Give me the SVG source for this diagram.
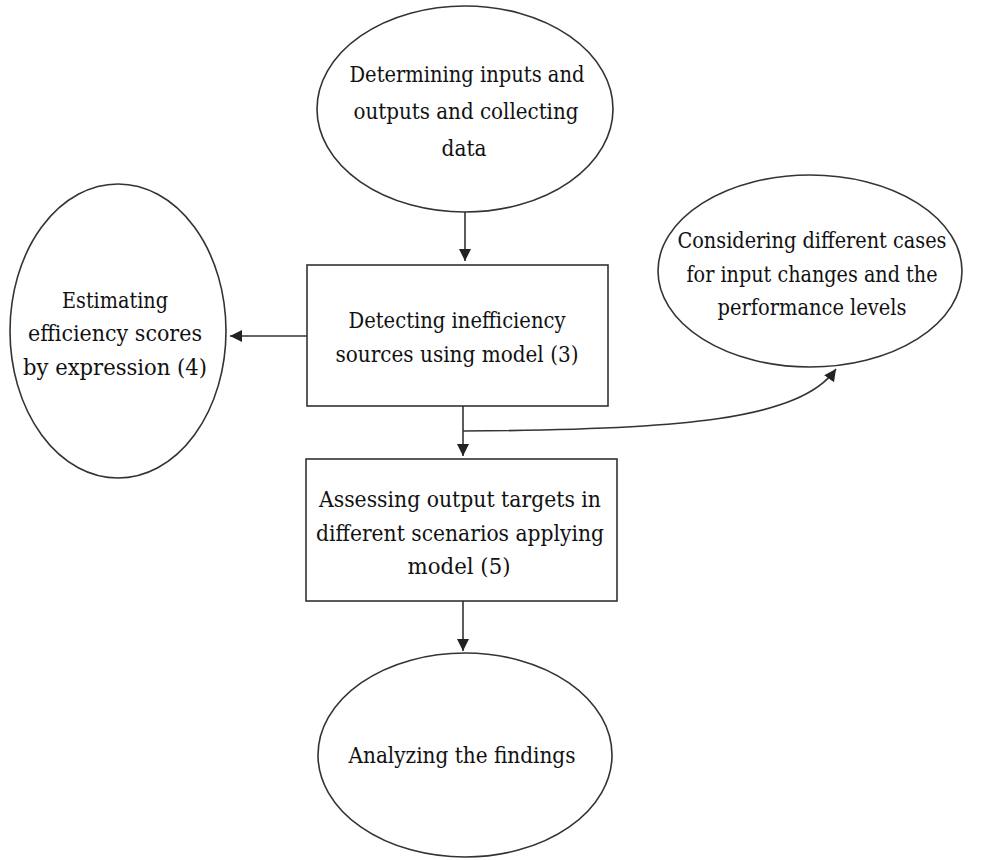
<svg xmlns="http://www.w3.org/2000/svg" width="996" height="860" viewBox="0 0 996 860">
<style>
.shape{fill:#fff;stroke:#333;stroke-width:1.6}
.lbl{font-family:'DejaVu Serif',serif;font-size:22px;fill:#111;text-anchor:middle}
.conn{fill:none;stroke:#333;stroke-width:1.6}
</style>
<defs>
<marker id="arr" markerUnits="userSpaceOnUse" markerWidth="14" markerHeight="14" refX="12" refY="6" orient="auto">
<path d="M0,0 L12,6 L0,12 Z" fill="#222"/>
</marker>
</defs>
<rect width="996" height="860" fill="#fff"/>
<g id="n1">
<ellipse class="shape" cx="465" cy="109" rx="148" ry="103"/>
<text class="lbl" x="467" y="82" textLength="235" lengthAdjust="spacingAndGlyphs">Determining inputs and</text>
<text class="lbl" x="466" y="119" textLength="225" lengthAdjust="spacingAndGlyphs">outputs and collecting</text>
<text class="lbl" x="464" y="156" textLength="45" lengthAdjust="spacingAndGlyphs">data</text>
</g>
<g id="n2">
<rect class="shape" x="307" y="265" width="301" height="141"/>
<text class="lbl" x="457" y="328" textLength="217" lengthAdjust="spacingAndGlyphs">Detecting inefficiency</text>
<text class="lbl" x="457" y="362" textLength="243" lengthAdjust="spacingAndGlyphs">sources using model (3)</text>
</g>
<g id="n3">
<ellipse class="shape" cx="118" cy="331" rx="108" ry="147"/>
<text class="lbl" x="115" y="308" textLength="106" lengthAdjust="spacingAndGlyphs">Estimating</text>
<text class="lbl" x="115" y="341" textLength="174" lengthAdjust="spacingAndGlyphs">efficiency scores</text>
<text class="lbl" x="115" y="375" textLength="184" lengthAdjust="spacingAndGlyphs">by expression (4)</text>
</g>
<g id="n4">
<ellipse class="shape" cx="810" cy="271" rx="152" ry="96"/>
<text class="lbl" x="812" y="248" textLength="269" lengthAdjust="spacingAndGlyphs">Considering different cases</text>
<text class="lbl" x="812" y="282" textLength="251" lengthAdjust="spacingAndGlyphs">for input changes and the</text>
<text class="lbl" x="812" y="315" textLength="189" lengthAdjust="spacingAndGlyphs">performance levels</text>
</g>
<g id="n5">
<rect class="shape" x="306" y="459" width="311" height="142"/>
<text class="lbl" x="460" y="507" textLength="282" lengthAdjust="spacingAndGlyphs">Assessing output targets in</text>
<text class="lbl" x="460" y="541" textLength="288" lengthAdjust="spacingAndGlyphs">different scenarios applying</text>
<text class="lbl" x="459" y="574" textLength="103" lengthAdjust="spacingAndGlyphs">model (5)</text>
</g>
<g id="n6">
<ellipse class="shape" cx="465" cy="755" rx="147" ry="102"/>
<text class="lbl" x="462" y="763" textLength="227" lengthAdjust="spacingAndGlyphs">Analyzing the findings</text>
</g>
<g id="connectors">
<line class="conn" x1="465" y1="212" x2="465" y2="261" marker-end="url(#arr)"/>
<line class="conn" x1="307" y1="336" x2="230" y2="336" marker-end="url(#arr)"/>
<line class="conn" x1="463" y1="406" x2="463" y2="456" marker-end="url(#arr)"/>
<path class="conn" d="M463,431 C680,430 800,420 836,369" marker-end="url(#arr)"/>
<line class="conn" x1="463" y1="601" x2="463" y2="651" marker-end="url(#arr)"/>
</g>
</svg>
